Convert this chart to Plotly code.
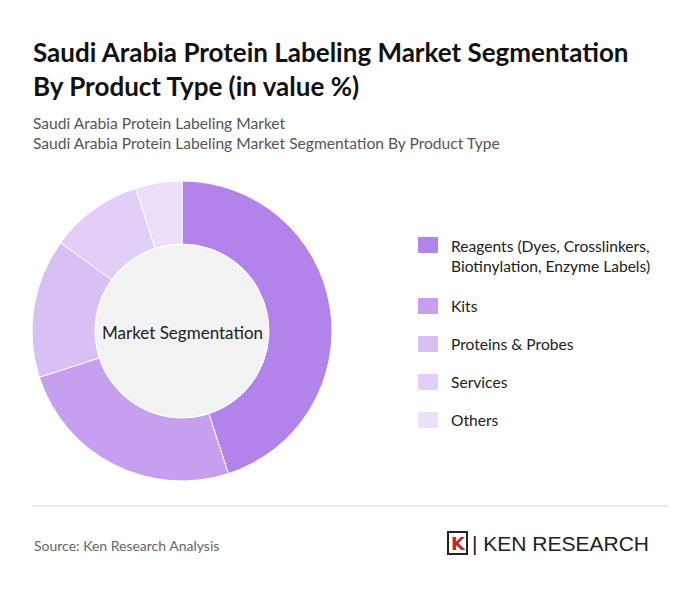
import plotly.graph_objects as go

labels = ["Reagents (Dyes, Crosslinkers, Biotinylation, Enzyme Labels)", "Kits", "Proteins & Probes", "Services", "Others"]
legend_text = ["Reagents (Dyes, Crosslinkers,<br>Biotinylation, Enzyme Labels)", "Kits", "Proteins & Probes", "Services", "Others"]
values = [45, 25, 15, 10, 5]
colors = ["#b283ea", "#c6a0ee", "#d8c0f5", "#e2cff7", "#ebdffa"]

W, H = 684, 575
O = 8  # page margin offset
def px(x): return (x - O) / W
def py(y): return (H - (y - O)) / H

fig = go.Figure()
fig.add_trace(go.Pie(labels=labels, values=values, hole=0.58, sort=False, direction="clockwise",
                     rotation=0, marker=dict(colors=colors, line=dict(color="white", width=1)),
                     textinfo="none", hoverinfo="label+percent", showlegend=False,
                     domain=dict(x=[px(32), px(332)], y=[py(481), py(181)])))

shapes = []
ann = []
shapes.append(dict(type="circle", xref="paper", yref="paper", x0=px(182-86), x1=px(182+86),
                   y0=py(331+86), y1=py(331-86), fillcolor="#f2f2f2", line=dict(width=0), layer="above"))
ann.append(dict(text="Market Segmentation", x=px(182), y=py(332), xref="paper", yref="paper", showarrow=False,
                xanchor="center", yanchor="middle", font=dict(size=17, color="#222")))
ys = [245, 306, 344, 382, 420]
for i, (t, c) in enumerate(zip(legend_text, colors)):
    y = ys[i]
    shapes.append(dict(type="rect", xref="paper", yref="paper", x0=px(418), x1=px(438),
                       y0=py(y+8), y1=py(y-8), fillcolor=c, line=dict(width=0)))
    yy = y + (11 if i == 0 else 0)
    ann.append(dict(text=t, x=px(449), y=py(yy), xref="paper", yref="paper", showarrow=False,
                    xanchor="left", yanchor="middle", align="left",
                    font=dict(size=15.6, color="#222")))
ann.append(dict(text="<b>Saudi Arabia Protein Labeling Market Segmentation<br>By Product Type (in value %)</b>",
                x=px(31), y=py(34), xref="paper", yref="paper", showarrow=False, xanchor="left", yanchor="top",
                align="left", font=dict(size=26, color="#111")))
ann.append(dict(text="Saudi Arabia Protein Labeling Market<br>Saudi Arabia Protein Labeling Market Segmentation By Product Type",
                x=px(31), y=py(112), xref="paper", yref="paper", showarrow=False, xanchor="left", yanchor="top",
                align="left", font=dict(size=15.6, color="#555")))
shapes.append(dict(type="line", xref="paper", yref="paper", x0=px(32), x1=px(668), y0=py(506), y1=py(506),
                   line=dict(color="#d5d5dc", width=1)))
ann.append(dict(text="Source: Ken Research Analysis", x=px(32), y=py(545), xref="paper", yref="paper",
                showarrow=False, xanchor="left", yanchor="middle", font=dict(size=14, color="#666")))
shapes.append(dict(type="rect", xref="paper", yref="paper", x0=px(448), x1=px(467), y0=py(554), y1=py(532),
                   fillcolor="white", line=dict(color="#222", width=2)))
ann.append(dict(text="<b>K</b>", x=px(458), y=py(543), xref="paper", yref="paper", showarrow=False,
                xanchor="center", yanchor="middle", font=dict(size=18, color="#c0272d", family="DejaVu Sans")))
ann.append(dict(text="| KEN RESEARCH", x=px(470), y=py(543), xref="paper", yref="paper", showarrow=False,
                xanchor="left", yanchor="middle", font=dict(size=21, color="#222", family="Liberation Sans")))

fig.update_layout(width=W, height=H, margin=dict(l=0, r=0, t=0, b=0), paper_bgcolor="white",
                  font=dict(family="Lato"), shapes=shapes, annotations=ann)
fig.write_html("out.html")
